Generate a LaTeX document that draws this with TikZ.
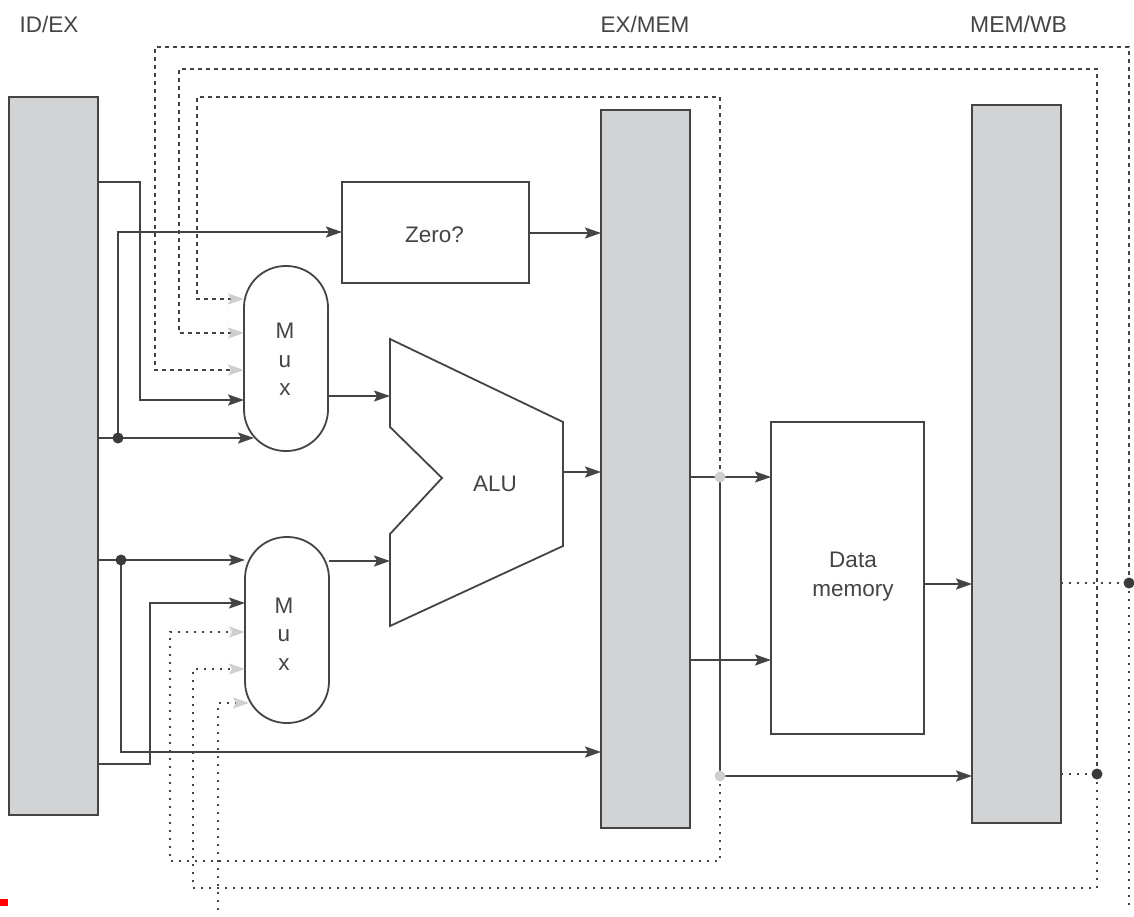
\documentclass[tikz,border=0pt]{standalone}
\usepackage{fontspec}
\setmainfont{Liberation Sans}
\usetikzlibrary{arrows.meta}
\definecolor{ink}{HTML}{444444}
\definecolor{regfill}{HTML}{D1D3D4}
\definecolor{softtip}{HTML}{CFCFCF}
\tikzset{
  x=1pt,y=-1pt,
  regbox/.style={draw=ink,line width=2pt,outer sep=0pt,fill=regfill,minimum width=89pt,minimum height=718pt,inner sep=0pt,anchor=north west},
  unitbox/.style={draw=ink,line width=1.8pt,outer sep=0pt,fill=white,inner sep=0pt,anchor=north west},
  muxbox/.style={draw=ink,line width=1.8pt,outer sep=0pt,fill=white,rounded corners=41.5pt,minimum width=84pt,inner sep=0pt,anchor=north west},
  lab/.style={font=\fontsize{22.5}{28.5}\selectfont,text=ink,inner sep=0pt,align=center},
  wire/.style={draw=ink,line width=2pt,line join=miter},
  arr/.style={wire,-{Stealth[length=16pt,width=11pt,inset=3pt,color=ink]}},
  dashwire/.style={draw=ink,line width=2.2pt,dash pattern=on 4pt off 4pt},
  dotwire/.style={draw=ink,line width=2.2pt,dash pattern=on 2pt off 6pt},
  softarr/.style={-{Stealth[length=16pt,width=11pt,inset=3pt,color=softtip]}},
  joint/.style={circle,fill=ink!85!black,minimum size=11pt,inner sep=0pt},
  softjoint/.style={circle,fill=softtip,minimum size=11pt,inner sep=0pt},
}
\begin{document}
\begin{tikzpicture}
\useasboundingbox (0,0) rectangle (1134,917);
% registers
\node[regbox] (idex) at (9,97) {};
\node[regbox] (exmem) at (601,110) {};
\node[regbox] (memwb) at (972,105) {};
% units
\node[unitbox,minimum width=187pt,minimum height=101pt] (zero) at (342,182) {};
\node[unitbox,minimum width=153pt,minimum height=312pt] (dmem) at (771,422) {};
\node[muxbox,minimum height=185pt] (muxa) at (244,266) {};
\node[muxbox,minimum height=186pt] (muxb) at (245,537) {};
% ALU
\draw[draw=ink,line width=1.8pt,line join=miter,fill=white]
  (390,339) coordinate (alua) -- (563,422) coordinate (alub) -- (563,546) coordinate (aluc)
  -- (390,626) coordinate (alud) -- (390,534) -- (442,478) -- (390,427) -- cycle;
% unit labels
\node[lab,anchor=base] (tzero) at (434.5,243) {Zero?};
\node[lab,anchor=base] (talu) at (495,491) {ALU};
\node[lab] (tdmem) at (853,576.4) {Data\\memory};
\node[lab] (tmuxa) at (285,359.5) {M\\u\\x};
\node[lab] (tmuxb) at (284,634) {M\\u\\x};
% stage labels
\node[lab,anchor=base west] (l1) at (19.5,33) {ID/EX};
\node[lab,anchor=base west] (l2) at (600.5,33) {EX/MEM};
\node[lab,anchor=base west,font=\fontsize{22.9}{28}\selectfont] (l3) at (970,33) {MEM/WB};
% stray mark
\fill[red] (0,899) rectangle (8,906);
% junction coordinates
\coordinate (ja) at (118,438);
\coordinate (jb) at (121,560);
\coordinate (jc) at (720,477);
\coordinate (jd) at (720,776);
\coordinate (je) at (1129,583);
\coordinate (jf) at (1097,774);
% solid wires
\draw[arr] (idex.east |- 0,182) -| (140,400) -- (muxa.west |- 0,400);
\draw[arr] (idex.east |- ja) -- (254,438);
\draw[arr] (ja) |- (zero.west |- 0,232);
\draw[arr] (zero.east |- 0,233) -- (exmem.west |- 0,233);
\draw[arr] (muxa.east |- 0,396) -- (390,396);
\draw[arr] (563,472) -- (exmem.west |- 0,472);
\draw[arr] (muxb.east |- 0,561) -- (390,561);
\draw[arr] (idex.east |- jb) -- (muxb.west |- jb);
\draw[arr] (jb) |- (exmem.west |- 0,752);
\draw[arr] (idex.east |- 0,764) -| (150,603) -- (muxb.west |- 0,603);
\draw[arr] (exmem.east |- jc) -- (dmem.west |- jc);
\draw[wire] (jc) -- (jd);
\draw[arr] (jd) -- (memwb.west |- jd);
\draw[arr] (exmem.east |- 0,660) -- (dmem.west |- 0,660);
\draw[arr] (dmem.east |- 0,584) -- (memwb.west |- 0,584);
% dashed forwarding
\draw[dashwire,softarr] (je) -- (1129,47) -- (155,47) -- (155,370) -- (muxa.west |- 0,370);
\draw[dashwire,softarr] (jf) -- (1097,69) -- (179,69) -- (179,333) -- (muxa.west |- 0,333);
\draw[dashwire,softarr] (jc) -- (720,97) -- (197,97) -- (197,299) -- (muxa.west |- 0,299);
% dotted forwarding
\draw[dotwire] (memwb.east |- je) -- (je);
\draw[dotwire] (memwb.east |- jf) -- (jf);
\draw[dotwire,softarr] (jd) -- (720,861) -- (170,861) -- (170,632) -- (muxb.west |- 0,632);
\draw[dotwire,softarr] (jf) -- (1097,888) -- (193,888) -- (193,669) -- (muxb.west |- 0,669);
\draw[dotwire,softarr] (218,910) -- (218,703) -- (249,703);
\coordinate (ee) at (1129,910);
\draw[dotwire] (je) -- (ee);
% junction dots
\node[joint] (da) at (ja) {};
\node[joint] (db) at (jb) {};
\node[softjoint] (dc) at (jc) {};
\node[softjoint] (dd) at (jd) {};
\node[joint] (de) at (je) {};
\node[joint] (df) at (jf) {};
\end{tikzpicture}
\end{document}
